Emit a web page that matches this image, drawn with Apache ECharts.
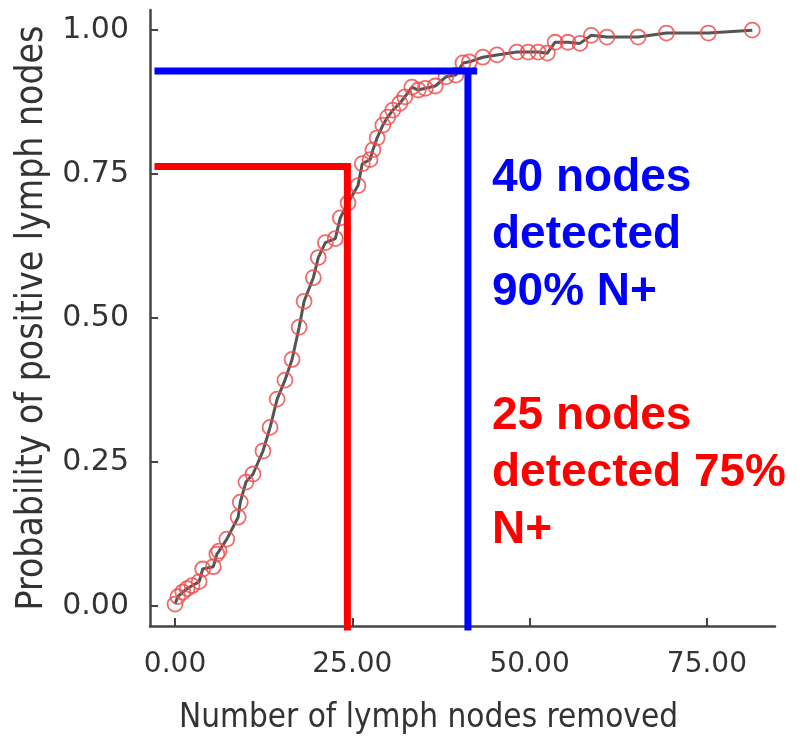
<!DOCTYPE html>
<html style="height: 100%">
<head>
	<meta charset="utf-8">
	<title></title>
	<script type="text/javascript" src="https://cdn.jsdelivr.net/npm/echarts@6/dist/echarts.min.js"></script>
</head>
<body style="height: 100%; margin: 0; background: #fff">
<div id="container" style="width: 800px; height: 740px"></div>
<script type="text/javascript">
	// points
	var nodesRemoved = [0, 0.4, 1.1, 1.7, 2.4, 3.4, 3.9, 5.4, 5.9, 6.2, 7.3, 8.9, 9.2, 10.0, 11.0,
		12.4, 13.4, 14.4, 15.5, 16.5, 17.5, 18.2, 19.5, 20.2, 21.2, 22.6, 23.3, 24.4, 25.8, 26.4,
		27.5, 27.9, 28.5, 29.3, 30.0, 30.7, 31.7, 32.4, 33.4, 34.3, 35.3, 36.7, 38.2, 39.6, 40.6,
		41.5, 43.4, 45.4, 48.2, 49.8, 51.2, 52.5, 53.6, 55.4, 57.1, 58.7, 60.9, 65.3, 69.3, 75.2, 81.4];
	var probPositive = [0.003, 0.016, 0.024, 0.030, 0.035, 0.042, 0.064, 0.068, 0.090, 0.095, 0.116, 0.154, 0.180, 0.215, 0.229,
		0.269, 0.310, 0.359, 0.392, 0.428, 0.484, 0.529, 0.570, 0.605, 0.631, 0.638, 0.674, 0.700, 0.730, 0.768,
		0.775, 0.792, 0.813, 0.835, 0.849, 0.861, 0.873, 0.884, 0.901, 0.896, 0.899, 0.903, 0.919, 0.922, 0.943,
		0.945, 0.953, 0.957, 0.962, 0.962, 0.962, 0.960, 0.979, 0.979, 0.977, 0.991, 0.988, 0.988, 0.995, 0.995, 1.000];

	var xTicks = [0, 25, 50, 75];
	var yTicks = [0, 0.25, 0.5, 0.75, 1];

	// guide lines (40 nodes -> 90%, 25 nodes -> 75%)
	var blueH = [[-2.9, 0.929], [42.6, 0.929]];
	var blueV = [[41.3, 0.929], [41.3, -0.043]];
	var redH = [[-2.9, 0.763], [24.8, 0.763]];
	var redV = [[24.3, 0.763], [24.3, -0.043]];

	var blueText = '40 nodes\ndetected\n90% N+';
	var redText = '25 nodes\ndetected 75%\nN+';

	var curve = [];
	for (var i = 0; i < nodesRemoved.length; i++) {
		curve.push([nodesRemoved[i], probPositive[i]]);
	}

	function guide(data, color) {
		return {
			type: 'line',
			data: data,
			symbol: 'none',
			clip: false,
			silent: true,
			z: 5,
			lineStyle: {color: color, width: 7, cap: 'butt'}
		};
	}

	var myChart = echarts.init(document.getElementById('container'));
	var option = {
		animation: false,
		backgroundColor: '#fff',
		grid: {left: 150, top: 10, right: 25, bottom: 113},
		xAxis: {
			type: 'value',
			min: -3.53,
			max: 84.6,
			name: 'Number of lymph nodes removed',
			nameLocation: 'middle',
			nameGap: 76,
			nameTextStyle: {
				fontFamily: 'DejaVu Sans Condensed, Liberation Sans Narrow, sans-serif',
				fontSize: 33, color: '#333', padding: [0, 68, 0, 0]
			},
			splitLine: {show: false},
			axisLine: {onZero: false, lineStyle: {color: '#444', width: 2.5}},
			axisTick: {inside: true, length: 8, customValues: xTicks, lineStyle: {color: '#444', width: 2}},
			axisLabel: {
				customValues: xTicks, margin: 25,
				fontFamily: 'DejaVu Sans', fontSize: 28, color: '#333',
				formatter: function (v) { return v.toFixed(2); }
			}
		},
		yAxis: {
			type: 'value',
			min: -0.035,
			max: 1.035,
			name: 'Probability of positive lymph nodes',
			nameLocation: 'middle',
			nameGap: 96,
			nameTextStyle: {
				fontFamily: 'DejaVu Sans Condensed, Liberation Sans Narrow, sans-serif',
				fontSize: 37, color: '#333'
			},
			splitLine: {show: false},
			axisLine: {show: true, onZero: false, lineStyle: {color: '#444', width: 2.5}},
			axisTick: {show: true, inside: true, length: 8, customValues: yTicks, lineStyle: {color: '#444', width: 2}},
			axisLabel: {
				customValues: yTicks, margin: 21,
				fontFamily: 'DejaVu Sans', fontSize: 30, color: '#333',
				formatter: function (v) { return v.toFixed(2); }
			}
		},
		series: [
			{
				type: 'line',
				data: curve,
				symbol: 'circle',
				symbolSize: 15,
				z: 3,
				lineStyle: {color: '#555', width: 3},
				itemStyle: {color: 'rgba(0,0,0,0)', borderColor: 'rgba(236,80,80,0.85)', borderWidth: 1.8}
			},
			guide(blueH, '#0000ff'),
			guide(blueV, '#0000ff'),
			guide(redH, '#ff0000'),
			guide(redV, '#ff0000')
		],
		graphic: [
			{
				type: 'text', left: 492, top: 150, z: 10,
				style: {text: blueText, font: 'bold 46px Liberation Sans', fill: '#0000ff', lineHeight: 57}
			},
			{
				type: 'text', left: 492, top: 388, z: 10,
				style: {text: redText, font: 'bold 46px Liberation Sans', fill: '#ff0000', lineHeight: 57}
			}
		]
	};
	myChart.setOption(option);
</script>
</body>
</html>
